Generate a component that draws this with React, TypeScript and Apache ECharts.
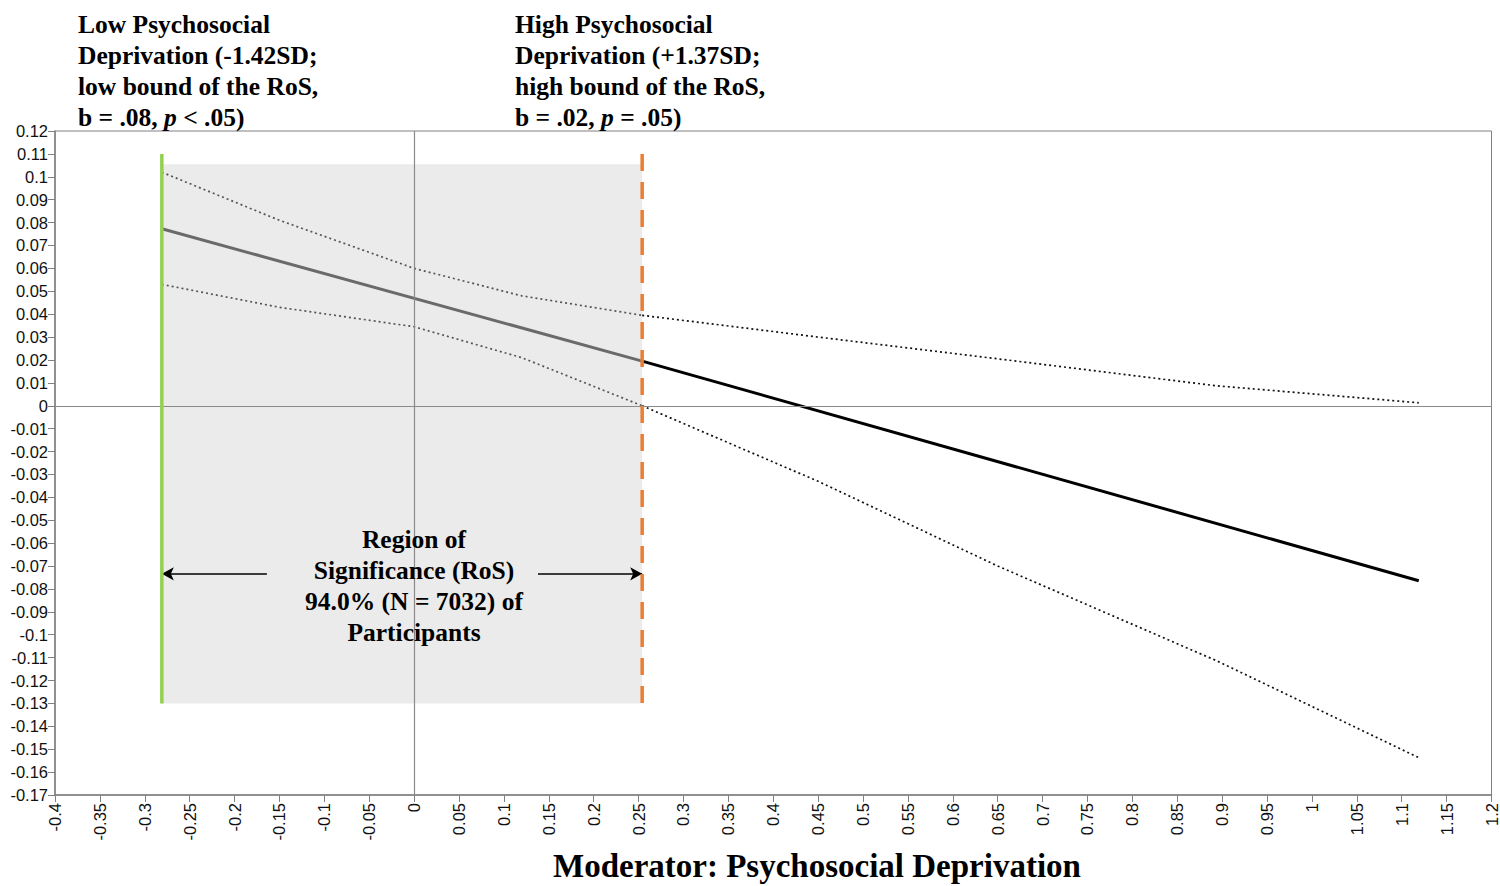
import React, { useEffect, useRef } from "react";
import * as echarts from "echarts";

// Moderator values at which the conditional effect and its CI are read
const moderator = [-0.281, -0.15, 0, 0.12, 0.254, 0.45, 0.65, 0.894, 1.119];
const ciUpper = [0.102, 0.081, 0.06, 0.048, 0.0395, 0.03, 0.0205, 0.0087, 0.0013];
const ciLower = [0.053, 0.043, 0.0345, 0.021, 0.0, -0.033, -0.07, -0.1114, -0.1537];

// Conditional effect (simple slope) line
const effectX = [-0.281, 0.254, 1.119];
const effectY = [0.0773, 0.0195, -0.0764];

// Region of significance bounds
const ROS_LOW = -0.281;
const ROS_HIGH = 0.254;
const ROS_TOP = 0.1055;
const ROS_BOTTOM = -0.13;
const BOUND_TOP = 0.11;
const ARROW_Y = -0.0734;
const ARROW_LEFT_START = -0.164;
const ARROW_RIGHT_START = 0.138;

const xTickLabels = { min: -0.4, max: 1.2, step: 0.05 };
const yTickLabels = { min: -0.17, max: 0.12, step: 0.01 };

const SERIF = '"Liberation Serif", "Times New Roman", serif';
const SANS = '"Liberation Sans", Arial, sans-serif';

const fmt = (v: number) => String(Number(v.toFixed(2)));

function pairs(xs: number[], ys: number[], from: number, to: number) {
  const out: number[][] = [];
  for (let i = from; i <= to; i++) out.push([xs[i], ys[i]]);
  return out;
}

export default function App() {
  const ref = useRef<HTMLDivElement>(null);

  useEffect(() => {
    if (!ref.current) return;
    const chart = echarts.init(ref.current, null, { renderer: "svg" });
    const split = moderator.indexOf(ROS_HIGH);
    const last = moderator.length - 1;
    const dotted = [2, 3];
    const annotFont = `bold 25.5px ${SERIF}`;
    const italicRich = {
      i: { fontStyle: "italic", fontWeight: "bold", fontSize: 25.5, fontFamily: SERIF, lineHeight: 31 },
    };

    const option: any = {
      animation: false,
      backgroundColor: "#ffffff",
      grid: {
        left: 55,
        top: 131,
        right: 6,
        bottom: 91,
        show: true,
        borderColor: "#808080",
        borderWidth: 1,
        backgroundColor: "transparent",
      },
      xAxis: {
        type: "value",
        min: xTickLabels.min,
        max: xTickLabels.max,
        interval: xTickLabels.step,
        axisLine: { onZero: false, lineStyle: { color: "#808080", width: 1.5 } },
        axisTick: { show: true, length: 7, lineStyle: { color: "#808080" } },
        splitLine: { show: false },
        axisLabel: {
          rotate: 90,
          margin: 8,
          fontFamily: SANS,
          fontSize: 16.5,
          color: "#111",
          formatter: (v: number) => fmt(v),
          showMinLabel: true,
          showMaxLabel: true,
        },
      },
      yAxis: {
        type: "value",
        min: yTickLabels.min,
        max: yTickLabels.max,
        interval: yTickLabels.step,
        axisLine: { show: true, onZero: false, lineStyle: { color: "#808080", width: 1.5 } },
        axisTick: { show: true, length: 7, lineStyle: { color: "#808080" } },
        splitLine: { show: false },
        axisLabel: {
          margin: 7,
          fontFamily: SANS,
          fontSize: 16.5,
          color: "#111",
          formatter: (v: number) => fmt(v),
          showMinLabel: true,
          showMaxLabel: true,
        },
      },
      series: [
        // shaded region of significance
        {
          type: "line",
          data: [],
          z: 1,
          silent: true,
          markArea: {
            silent: true,
            itemStyle: { color: "#ebebeb" },
            data: [[{ coord: [ROS_LOW, ROS_TOP] }, { coord: [ROS_HIGH, ROS_BOTTOM] }]],
          },
        },
        // zero reference lines
        {
          type: "line",
          data: [],
          z: 2,
          silent: true,
          markLine: {
            silent: true,
            symbol: "none",
            label: { show: false },
            lineStyle: { color: "#8a8a8a", width: 1.2, type: "solid" },
            data: [{ xAxis: 0 }, { yAxis: 0 }],
          },
        },
        // confidence band, inside RoS
        {
          type: "line",
          data: pairs(moderator, ciUpper, 0, split),
          showSymbol: false,
          z: 3,
          lineStyle: { color: "#555", width: 1.7, type: dotted },
        },
        {
          type: "line",
          data: pairs(moderator, ciLower, 0, split),
          showSymbol: false,
          z: 3,
          lineStyle: { color: "#555", width: 1.7, type: dotted },
        },
        // confidence band, outside RoS
        {
          type: "line",
          data: pairs(moderator, ciUpper, split, last),
          showSymbol: false,
          z: 3,
          lineStyle: { color: "#111", width: 1.7, type: dotted },
        },
        {
          type: "line",
          data: pairs(moderator, ciLower, split, last),
          showSymbol: false,
          z: 3,
          lineStyle: { color: "#111", width: 1.7, type: dotted },
        },
        // conditional effect
        {
          type: "line",
          data: pairs(effectX, effectY, 0, 1),
          showSymbol: false,
          z: 4,
          lineStyle: { color: "#6a6a6a", width: 3 },
        },
        {
          type: "line",
          data: pairs(effectX, effectY, 1, 2),
          showSymbol: false,
          z: 4,
          lineStyle: { color: "#000", width: 3 },
        },
        // RoS bounds
        {
          type: "line",
          data: [
            [ROS_LOW, BOUND_TOP],
            [ROS_LOW, ROS_BOTTOM],
          ],
          showSymbol: false,
          z: 5,
          lineStyle: { color: "#92d050", width: 3.5 },
        },
        {
          type: "line",
          data: [
            [ROS_HIGH, BOUND_TOP],
            [ROS_HIGH, ROS_BOTTOM],
          ],
          showSymbol: false,
          z: 5,
          lineStyle: { color: "#ed7d31", width: 3.5, type: [17, 11] },
        },
        // arrows spanning the RoS
        {
          type: "line",
          data: [],
          z: 6,
          silent: true,
          markLine: {
            silent: true,
            symbol: ["none", "arrow"],
            symbolSize: [10, 12],
            label: { show: false },
            lineStyle: { color: "#000", width: 1.6, type: "solid" },
            data: [
              [{ coord: [ARROW_LEFT_START, ARROW_Y] }, { coord: [ROS_LOW, ARROW_Y] }],
              [{ coord: [ARROW_RIGHT_START, ARROW_Y] }, { coord: [ROS_HIGH, ARROW_Y] }],
            ],
          },
        },
      ],
      graphic: [
        {
          type: "text",
          left: 78,
          top: 8.5,
          z: 10,
          style: {
            text: "Low Psychosocial\nDeprivation (-1.42SD;\nlow bound of the RoS,\nb = .08, {i|p} < .05)",
            font: annotFont,
            fill: "#000",
            lineHeight: 31,
            rich: italicRich,
          },
        },
        {
          type: "text",
          left: 515,
          top: 8.5,
          z: 10,
          style: {
            text: "High Psychosocial\nDeprivation (+1.37SD;\nhigh bound of the RoS,\nb = .02, {i|p} = .05)",
            font: annotFont,
            fill: "#000",
            lineHeight: 31,
            rich: italicRich,
          },
        },
        {
          type: "text",
          x: 414,
          y: 523.5,
          z: 10,
          style: {
            text: "Region of\nSignificance (RoS)\n94.0% (N = 7032) of\nParticipants",
            font: annotFont,
            fill: "#000",
            lineHeight: 31,
            align: "center",
            verticalAlign: "top",
          },
        },
        {
          type: "text",
          x: 817,
          y: 866,
          z: 10,
          style: {
            text: "Moderator: Psychosocial Deprivation",
            font: `bold 33px ${SERIF}`,
            fill: "#000",
            align: "center",
            verticalAlign: "middle",
          },
        },
      ],
    };

    chart.setOption(option);
    return () => chart.dispose();
  }, []);

  return (
    <div
      ref={ref}
      style={{ position: "fixed", left: 0, top: 0, width: 1500, height: 886, background: "#fff" }}
    />
  );
}
